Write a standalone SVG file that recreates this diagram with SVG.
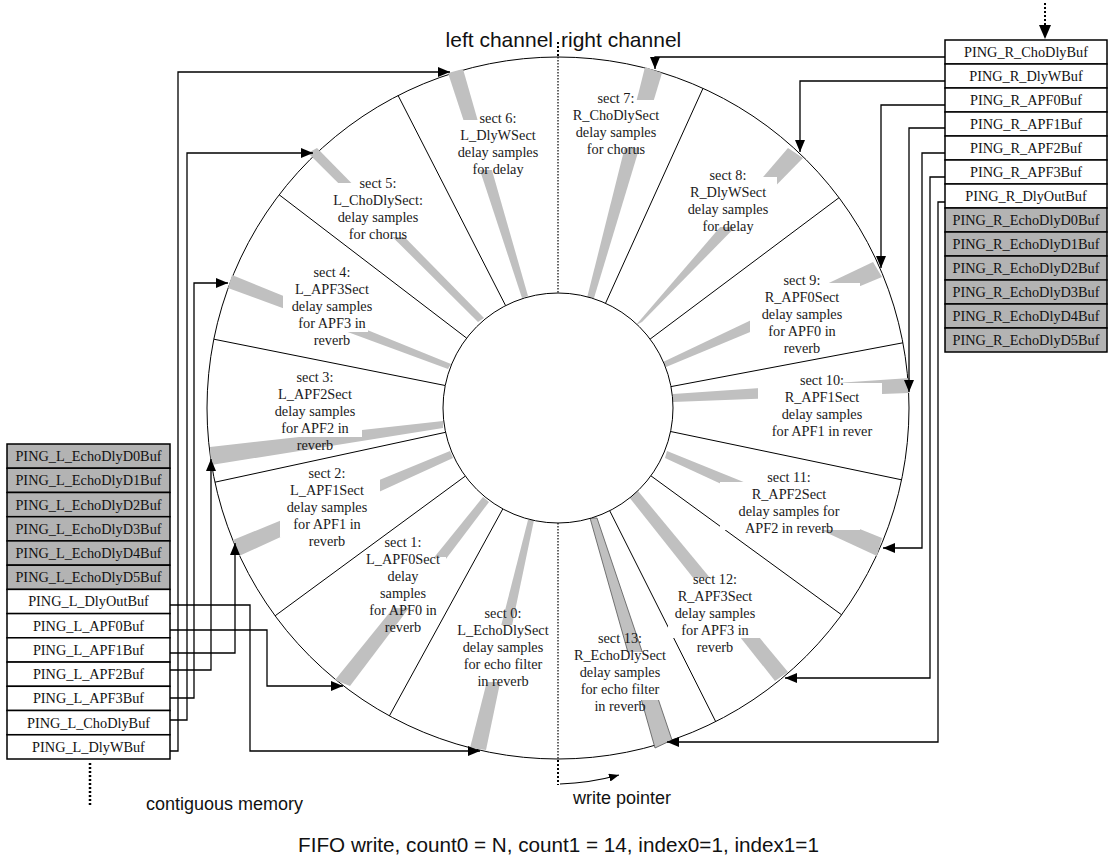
<svg xmlns="http://www.w3.org/2000/svg" width="1118" height="861" viewBox="0 0 1118 861">
<defs>
<marker id="ah" viewBox="0 0 12 10" refX="12" refY="5" markerWidth="12" markerHeight="10" markerUnits="userSpaceOnUse" orient="auto"><path d="M0,0 L12,5 L0,10 z" fill="#000"/></marker>
<marker id="ahs" viewBox="0 0 10 8" refX="10" refY="4" markerWidth="10" markerHeight="8" markerUnits="userSpaceOnUse" orient="auto"><path d="M0,0 L10,4 L0,8 z" fill="#000"/></marker>
</defs>
<style>
.lbl{font-family:"Liberation Serif","Times New Roman",serif;font-size:14.3px;fill:#1a1a1a;text-anchor:middle}
.buf{font-family:"Liberation Serif","Times New Roman",serif;font-size:14.3px;fill:#111;text-anchor:middle}
.sans{font-family:"Liberation Sans",Arial,sans-serif;fill:#111}
.wedge{fill:#c0c0c0}
.div{stroke:#000;stroke-width:1;fill:none}
.conn{stroke:#000;stroke-width:1.3;fill:none;marker-end:url(#ah)}
.box{fill:#fff}
.roww{fill:#fff;stroke:#000;stroke-width:1.5}
.rowg{fill:#b3b3b3;stroke:#000;stroke-width:1.5}
</style>
<rect x="0" y="0" width="1118" height="861" fill="#fff"/>

<g id="ring">
<circle cx="558" cy="408" r="351" fill="#fff" stroke="#000" stroke-width="1"/>
<g class="div">
<line x1="505.6" y1="305.6" x2="398.1" y2="95.5"/>
<line x1="466.6" y1="338.1" x2="279.2" y2="194.8"/>
<line x1="445.2" y1="385.5" x2="213.8" y2="339.2"/>
<line x1="445.6" y1="432.3" x2="214.9" y2="482.2"/>
<line x1="465.3" y1="476.1" x2="275.1" y2="615.8"/>
<line x1="502.8" y1="508.9" x2="389.4" y2="715.9"/>
<line x1="605.5" y1="303.3" x2="703.0" y2="88.3"/>
<line x1="650.1" y1="339.1" x2="839.0" y2="197.7"/>
<line x1="671.0" y1="386.6" x2="902.9" y2="342.8"/>
<line x1="670.6" y1="431.5" x2="901.6" y2="479.8"/>
<line x1="650.9" y1="475.8" x2="841.6" y2="614.8"/>
<line x1="609.7" y1="510.7" x2="715.7" y2="721.6"/>
</g>
</g>

<g id="sect0"><polygon class="wedge" points="470,748 486,750 534,520 528,520"/><rect class="box" x="455" y="625" width="95" height="57"/>
<text class="lbl" x="503" y="618"><tspan x="503">sect 0:</tspan><tspan x="503" dy="17">L_EchoDlySect</tspan><tspan x="503" dy="17">delay samples</tspan><tspan x="503" dy="17">for echo filter</tspan><tspan x="503" dy="17">in reverb</tspan></text></g>
<g id="sect1"><polygon class="wedge" points="335,680 350,686 489,502 483,497"/><rect class="box" x="375" y="557" width="71" height="51"/>
<text class="lbl" x="403" y="547"><tspan x="403">sect 1:</tspan><tspan x="403" dy="17">L_APF0Sect</tspan><tspan x="403" dy="17">delay</tspan><tspan x="403" dy="17">samples</tspan><tspan x="403" dy="17">for APF0 in</tspan><tspan x="403" dy="17">reverb</tspan></text></g>
<g id="sect2"><polygon class="wedge" points="233,540 239,556 453,458 450,451"/><rect class="box" x="280" y="471" width="100" height="66"/>
<text class="lbl" x="327" y="478"><tspan x="327">sect 2:</tspan><tspan x="327" dy="17">L_APF1Sect</tspan><tspan x="327" dy="17">delay samples</tspan><tspan x="327" dy="17">for APF1 in</tspan><tspan x="327" dy="17">reverb</tspan></text></g>
<g id="sect3"><polygon class="wedge" points="210,447 211,465 443,428 443,421"/><rect class="box" x="262" y="371" width="100" height="66"/>
<text class="lbl" x="315" y="382"><tspan x="315">sect 3:</tspan><tspan x="315" dy="17">L_APF2Sect</tspan><tspan x="315" dy="17">delay samples</tspan><tspan x="315" dy="17">for APF2 in</tspan><tspan x="315" dy="17">reverb</tspan></text></g>
<g id="sect4"><polygon class="wedge" points="232,275 228,288 448,369 451,364"/><rect class="box" x="283" y="266" width="85" height="66"/>
<text class="lbl" x="332" y="277"><tspan x="332">sect 4:</tspan><tspan x="332" dy="17">L_APF3Sect</tspan><tspan x="332" dy="17">delay samples</tspan><tspan x="332" dy="17">for APF3 in</tspan><tspan x="332" dy="17">reverb</tspan></text></g>
<g id="sect5"><polygon class="wedge" points="308,153 317,148 484,318 478,322"/><rect class="box" x="338" y="183" width="82" height="54"/>
<text class="lbl" x="378" y="188"><tspan x="378">sect 5:</tspan><tspan x="378" dy="17">L_ChoDlySect:</tspan><tspan x="378" dy="17">delay samples</tspan><tspan x="378" dy="17">for chorus</tspan></text></g>
<g id="sect6"><polygon class="wedge" points="448,73 463,69 528,296 522,298"/><rect class="box" x="455" y="120" width="85" height="50"/>
<text class="lbl" x="498" y="123"><tspan x="498">sect 6:</tspan><tspan x="498" dy="17">L_DlyWSect</tspan><tspan x="498" dy="17">delay samples</tspan><tspan x="498" dy="17">for delay</tspan></text></g>
<g id="sect7"><polygon class="wedge" points="645,67 662,73 594,298 587,298"/><rect class="box" x="575" y="100" width="85" height="48"/>
<text class="lbl" x="616" y="103"><tspan x="616">sect 7:</tspan><tspan x="616" dy="17">R_ChoDlySect</tspan><tspan x="616" dy="17">delay samples</tspan><tspan x="616" dy="17">for chorus</tspan></text></g>
<g id="sect8"><polygon class="wedge" points="788,148 803,158 642,322 636,325"/><rect class="box" x="680" y="177" width="97" height="50"/>
<text class="lbl" x="728" y="180"><tspan x="728">sect 8:</tspan><tspan x="728" dy="17">R_DlyWSect</tspan><tspan x="728" dy="17">delay samples</tspan><tspan x="728" dy="17">for delay</tspan></text></g>
<g id="sect9"><polygon class="wedge" points="873,262 882,277 666,367 663,362"/><rect class="box" x="750" y="283" width="110" height="62"/>
<text class="lbl" x="802" y="285"><tspan x="802">sect 9:</tspan><tspan x="802" dy="17">R_APF0Sect</tspan><tspan x="802" dy="17">delay samples</tspan><tspan x="802" dy="17">for APF0 in</tspan><tspan x="802" dy="17">reverb</tspan></text></g>
<g id="sect10"><polygon class="wedge" points="910,378 909,393 673,402 673,394"/><rect class="box" x="758" y="383" width="124" height="57"/>
<text class="lbl" x="822" y="385"><tspan x="822">sect 10:</tspan><tspan x="822" dy="17">R_APF1Sect</tspan><tspan x="822" dy="17">delay samples</tspan><tspan x="822" dy="17">for APF1 in rever</tspan></text></g>
<g id="sect11"><polygon class="wedge" points="882,538 877,556 665,458 667,451"/><rect class="box" x="720" y="482" width="140" height="48"/>
<text class="lbl" x="789" y="482"><tspan x="789">sect 11:</tspan><tspan x="789" dy="17">R_APF2Sect</tspan><tspan x="789" dy="17">delay samples for</tspan><tspan x="789" dy="17">APF2 in reverb</tspan></text></g>
<g id="sect12"><polygon class="wedge" points="775,681 788,672 638,491 629,497"/><rect class="box" x="668" y="578" width="107" height="60"/>
<text class="lbl" x="715" y="584"><tspan x="715">sect 12:</tspan><tspan x="715" dy="17">R_APF3Sect</tspan><tspan x="715" dy="17">delay samples</tspan><tspan x="715" dy="17">for APF3 in</tspan><tspan x="715" dy="17">reverb</tspan></text></g>
<g id="sect13"><polygon class="wedge" points="590,518 597,518 672,740 655,748" stroke="#555" stroke-width="0.8"/><rect class="box" x="580" y="652" width="82" height="48"/>
<text class="lbl" x="620" y="643"><tspan x="620">sect 13:</tspan><tspan x="620" dy="17">R_EchoDlySect</tspan><tspan x="620" dy="17">delay samples</tspan><tspan x="620" dy="17">for echo filter</tspan><tspan x="620" dy="17">in reverb</tspan></text></g>

<g id="hub"><circle cx="558" cy="408" r="115" fill="#fff" stroke="#000" stroke-width="1"/></g>

<g id="split">
<line x1="558" y1="42" x2="558" y2="57" stroke="#000" stroke-width="2" stroke-dasharray="2,2"/>
<line x1="558" y1="57" x2="558" y2="293" stroke="#000" stroke-width="1.2" stroke-dasharray="1.5,1.5"/>
<line x1="558" y1="523" x2="558" y2="759" stroke="#000" stroke-width="1.2" stroke-dasharray="1.5,1.5"/>
<line x1="558" y1="760" x2="558" y2="785" stroke="#000" stroke-width="2" stroke-dasharray="2,2"/>
<path d="M560,784 Q590,783 619,775" stroke="#000" stroke-width="1.2" fill="none" marker-end="url(#ahs)"/>
<line x1="1045" y1="3" x2="1045" y2="26" stroke="#000" stroke-width="2" stroke-dasharray="2,2"/>
<polygon points="1039,25 1051,25 1045,39" fill="#000"/>
<line x1="90" y1="763" x2="90" y2="806" stroke="#000" stroke-width="2.5" stroke-dasharray="2,2"/>
</g>

<g id="connectors">
<path class="conn" d="M170,605 H250 V751 H480"/>
<path class="conn" d="M170,630 H267 V686 H343"/>
<path class="conn" d="M170,653 H235 V543"/>
<path class="conn" d="M170,670 H211 V459"/>
<path class="conn" d="M170,698 H194 V283 H228"/>
<path class="conn" d="M170,720 H187 V153 H313"/>
<path class="conn" d="M170,751 H178 V72 H450"/>
<path class="conn" d="M945,57 H655 V69"/>
<path class="conn" d="M945,81 H800 V152"/>
<path class="conn" d="M945,105 H881 V268"/>
<path class="conn" d="M945,128 H909 V392"/>
<path class="conn" d="M945,153 H922 V548 H883"/>
<path class="conn" d="M945,177 H930 V678 H785"/>
<path class="conn" d="M945,202 H938 V742 H667"/>
</g>

<g id="left-buffers">
<g id="L_EchoDlyD0Buf"><rect class="rowg" x="7" y="444" width="163" height="24.2"/><text class="buf" x="88.5" y="461">PING_L_EchoDlyD0Buf</text></g>
<g id="L_EchoDlyD1Buf"><rect class="rowg" x="7" y="468.2" width="163" height="24.2"/><text class="buf" x="88.5" y="485.2">PING_L_EchoDlyD1Buf</text></g>
<g id="L_EchoDlyD2Buf"><rect class="rowg" x="7" y="492.5" width="163" height="24.2"/><text class="buf" x="88.5" y="509.5">PING_L_EchoDlyD2Buf</text></g>
<g id="L_EchoDlyD3Buf"><rect class="rowg" x="7" y="516.7" width="163" height="24.2"/><text class="buf" x="88.5" y="533.7">PING_L_EchoDlyD3Buf</text></g>
<g id="L_EchoDlyD4Buf"><rect class="rowg" x="7" y="540.9" width="163" height="24.2"/><text class="buf" x="88.5" y="557.9">PING_L_EchoDlyD4Buf</text></g>
<g id="L_EchoDlyD5Buf"><rect class="rowg" x="7" y="565.2" width="163" height="24.2"/><text class="buf" x="88.5" y="582.2">PING_L_EchoDlyD5Buf</text></g>
<g id="L_DlyOutBuf"><rect class="roww" x="7" y="589.4" width="163" height="24.2"/><text class="buf" x="88.5" y="606.4">PING_L_DlyOutBuf</text></g>
<g id="L_APF0Buf"><rect class="roww" x="7" y="613.6" width="163" height="24.2"/><text class="buf" x="88.5" y="630.6">PING_L_APF0Buf</text></g>
<g id="L_APF1Buf"><rect class="roww" x="7" y="637.8" width="163" height="24.2"/><text class="buf" x="88.5" y="654.8">PING_L_APF1Buf</text></g>
<g id="L_APF2Buf"><rect class="roww" x="7" y="662.1" width="163" height="24.2"/><text class="buf" x="88.5" y="679.1">PING_L_APF2Buf</text></g>
<g id="L_APF3Buf"><rect class="roww" x="7" y="686.3" width="163" height="24.2"/><text class="buf" x="88.5" y="703.3">PING_L_APF3Buf</text></g>
<g id="L_ChoDlyBuf"><rect class="roww" x="7" y="710.5" width="163" height="24.2"/><text class="buf" x="88.5" y="727.5">PING_L_ChoDlyBuf</text></g>
<g id="L_DlyWBuf"><rect class="roww" x="7" y="734.8" width="163" height="24.2"/><text class="buf" x="88.5" y="751.8">PING_L_DlyWBuf</text></g>
</g>

<g id="right-buffers">
<g id="R_ChoDlyBuf"><rect class="roww" x="945" y="40" width="162" height="24"/><text class="buf" x="1026" y="57">PING_R_ChoDlyBuf</text></g>
<g id="R_DlyWBuf"><rect class="roww" x="945" y="64" width="162" height="24"/><text class="buf" x="1026" y="81">PING_R_DlyWBuf</text></g>
<g id="R_APF0Buf"><rect class="roww" x="945" y="88" width="162" height="24"/><text class="buf" x="1026" y="105">PING_R_APF0Buf</text></g>
<g id="R_APF1Buf"><rect class="roww" x="945" y="112" width="162" height="24"/><text class="buf" x="1026" y="129">PING_R_APF1Buf</text></g>
<g id="R_APF2Buf"><rect class="roww" x="945" y="136" width="162" height="24"/><text class="buf" x="1026" y="153">PING_R_APF2Buf</text></g>
<g id="R_APF3Buf"><rect class="roww" x="945" y="160" width="162" height="24"/><text class="buf" x="1026" y="177">PING_R_APF3Buf</text></g>
<g id="R_DlyOutBuf"><rect class="roww" x="945" y="184" width="162" height="24"/><text class="buf" x="1026" y="201">PING_R_DlyOutBuf</text></g>
<g id="R_EchoDlyD0Buf"><rect class="rowg" x="945" y="208" width="162" height="24"/><text class="buf" x="1026" y="225">PING_R_EchoDlyD0Buf</text></g>
<g id="R_EchoDlyD1Buf"><rect class="rowg" x="945" y="232" width="162" height="24"/><text class="buf" x="1026" y="249">PING_R_EchoDlyD1Buf</text></g>
<g id="R_EchoDlyD2Buf"><rect class="rowg" x="945" y="256" width="162" height="24"/><text class="buf" x="1026" y="273">PING_R_EchoDlyD2Buf</text></g>
<g id="R_EchoDlyD3Buf"><rect class="rowg" x="945" y="280" width="162" height="24"/><text class="buf" x="1026" y="297">PING_R_EchoDlyD3Buf</text></g>
<g id="R_EchoDlyD4Buf"><rect class="rowg" x="945" y="304" width="162" height="24"/><text class="buf" x="1026" y="321">PING_R_EchoDlyD4Buf</text></g>
<g id="R_EchoDlyD5Buf"><rect class="rowg" x="945" y="328" width="162" height="24"/><text class="buf" x="1026" y="345">PING_R_EchoDlyD5Buf</text></g>
</g>

<g id="captions">
<text class="sans" x="553" y="47" font-size="21" text-anchor="end">left channel</text>
<text class="sans" x="561" y="47" font-size="21">right channel</text>
<text class="sans" x="146" y="810" font-size="18">contiguous memory</text>
<text class="sans" x="573" y="804" font-size="18">write pointer</text>
<text class="sans" x="558.5" y="852" font-size="20.7" text-anchor="middle">FIFO write, count0 = N, count1 = 14, index0=1, index1=1</text>
</g>
</svg>
